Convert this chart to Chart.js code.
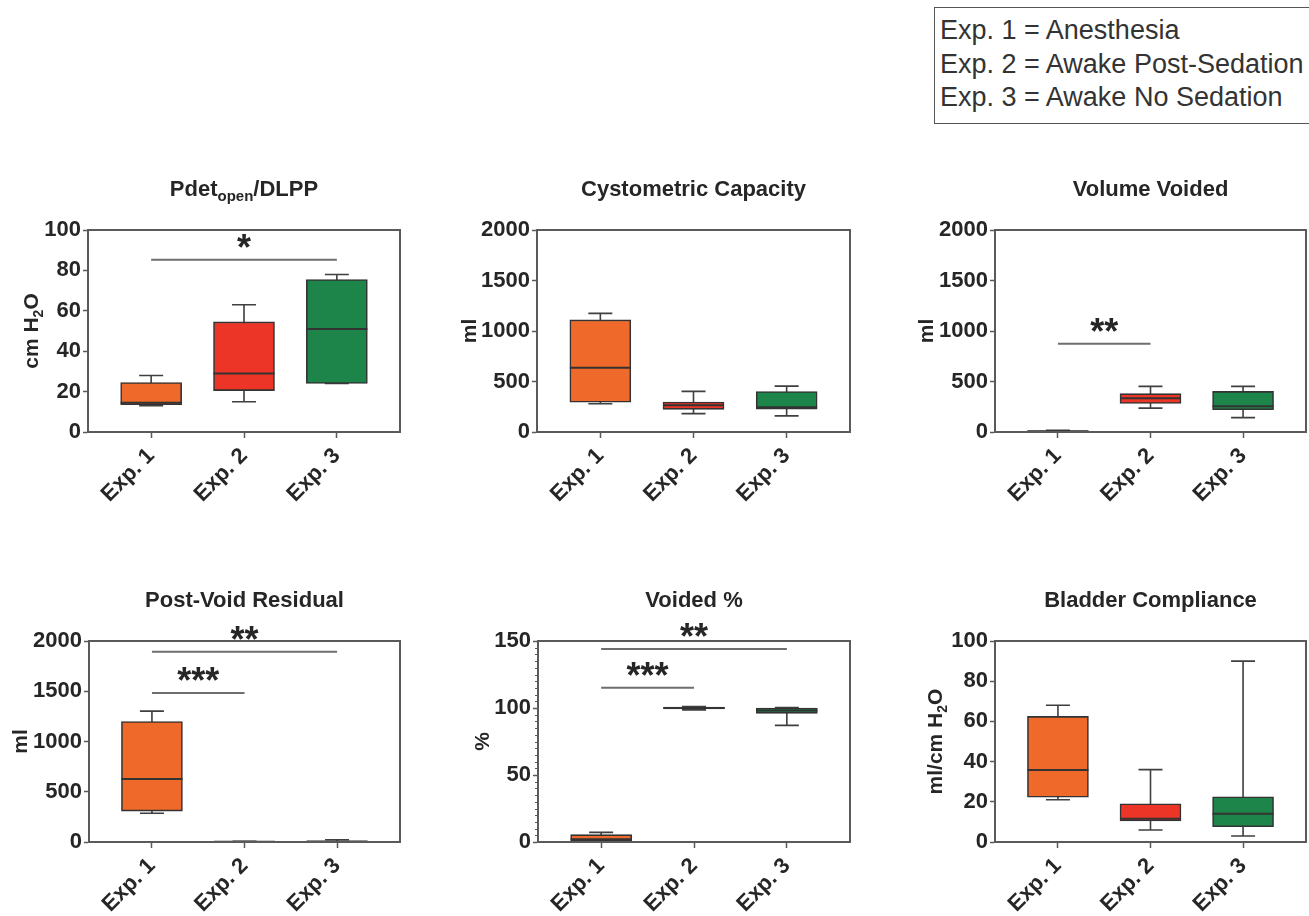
<!DOCTYPE html>
<html>
<head>
<meta charset="utf-8">
<script src="https://cdn.jsdelivr.net/npm/chart.js@4.4.1/dist/chart.umd.min.js"></script>
<style>
  html, body { margin: 0; padding: 0; background: #fff; }
  body { width: 1309px; height: 916px; overflow: hidden; position: relative; }
  canvas.panel { position: absolute; }
  #key {
    position: absolute; left: 934px; top: 7px; width: 420px; height: 117px;
    box-sizing: border-box; border: 1.5px solid #555; padding: 6px 0 0 5px;
    font: 27px "Liberation Sans", Arial, sans-serif; color: #333; line-height: 33.5px;
    white-space: nowrap;
  }
</style>
</head>
<body>
<div id="key">
  <div>Exp. 1 = Anesthesia</div>
  <div>Exp. 2 = Awake Post-Sedation</div>
  <div>Exp. 3 = Awake No Sedation</div>
</div>
<script>
// ---- data ----
const categories = ['Exp. 1', 'Exp. 2', 'Exp. 3'];

// five-number summary per experiment: [min, q1, median, q3, max]
const pdetBoxes       = [[13, 13.5, 14.5, 24.5, 28], [15, 20.5, 29, 54.5, 63], [24, 24, 51, 75.5, 78]];
const capacityBoxes   = [[280, 295, 635, 1110, 1175], [182, 224, 266, 296, 402], [160, 226, 246, 400, 454]];
const volVoidedBoxes  = [[3, 5, 8, 12, 18], [236, 282, 334, 380, 452], [142, 220, 256, 402, 452]];
const pvrBoxes        = [[286, 308, 626, 1198, 1302], [0, 1, 2, 4, 6], [0, 2, 5, 9, 22]];
const voidedPctBoxes  = [[0.3, 0.8, 2, 5.5, 7.2], [98.6, 99.3, 100, 100.6, 101], [87, 96, 98.2, 100, 100.4]];
const complianceBoxes = [[21, 22.3, 35.8, 62.5, 68], [6, 10.5, 11.6, 19, 36], [3, 7.6, 14, 22.5, 90]];

// significance brackets: [from group, to group, height in axis units, stars]
const pdetSig       = [[0, 2, 85.3, '*']];
const capacitySig   = [];
const volVoidedSig  = [[0, 1, 873, '**']];
const pvrSig        = [[0, 2, 1893, '**'], [0, 1, 1483, '***']];
const voidedPctSig  = [[0, 2, 144, '**'], [0, 1, 115.2, '***']];
const complianceSig = [];

// panel text and axis ranges
const panelTitles = ['Pdet_{open}/DLPP', 'Cystometric Capacity', 'Volume Voided', 'Post-Void Residual', 'Voided %', 'Bladder Compliance'];
const yTitles     = ['cm H_{2}O', 'ml', 'ml', 'ml', '%', 'ml/cm H_{2}O'];
const yMaxes      = [100, 2000, 2000, 2000, 150, 100];
const ySteps      = [20, 500, 500, 500, 50, 20];
const yMinorSteps = [0, 0, 0, 0, 5, 0];

// ---- styling / layout ----
const boxColors = ['#ef6a2a', '#ec3527', '#1d854a'];
const FONT = '"Liberation Sans", Arial, sans-serif';
const INK = '#262626';
const AXIS = '#5a5a5a';
const LEFT_SPACE = 95, TOP_SPACE = 75, BOTTOM_SPACE = 80, RIGHT_SPACE = 3;

const layouts = [
  { plot: [88, 230, 400, 432],   yTitleGap: 58 },
  { plot: [537, 230, 850, 432],  yTitleGap: 69 },
  { plot: [995, 230, 1306, 432], yTitleGap: 70 },
  { plot: [89, 641, 400, 842],   yTitleGap: 70 },
  { plot: [538, 641, 850, 842],  yTitleGap: 57 },
  { plot: [995, 641, 1306, 842], yTitleGap: 61 }
];

const allBoxes = [pdetBoxes, capacityBoxes, volVoidedBoxes, pvrBoxes, voidedPctBoxes, complianceBoxes];
const allSig   = [pdetSig, capacitySig, volVoidedSig, pvrSig, voidedPctSig, complianceSig];

// text with "_{...}" subscripts
function drawRich(ctx, text, x, y, size, align) {
  const parts = [];
  const re = /_\{([^}]*)\}/g;
  let last = 0, m;
  while ((m = re.exec(text))) {
    if (m.index > last) parts.push({ s: text.slice(last, m.index), sub: false });
    parts.push({ s: m[1], sub: true });
    last = re.lastIndex;
  }
  if (last < text.length) parts.push({ s: text.slice(last), sub: false });
  const subSize = Math.round(size * 0.68);
  const font = (s) => `bold ${s}px ${FONT}`;
  let total = 0;
  parts.forEach(p => { ctx.font = font(p.sub ? subSize : size); p.w = ctx.measureText(p.s).width; total += p.w; });
  let cx = align === 'center' ? x - total / 2 : x;
  ctx.textAlign = 'left';
  ctx.textBaseline = 'alphabetic';
  parts.forEach(p => {
    ctx.font = font(p.sub ? subSize : size);
    ctx.fillText(p.s, cx, p.sub ? y + size * 0.24 : y);
    cx += p.w;
  });
}

const boxPlotPlugin = {
  id: 'boxPlot',
  beforeDatasetsDraw(chart, args, o) {
    // whiskers behind the boxes
    const { ctx } = chart;
    const xs = chart.scales.x, ys = chart.scales.y;
    ctx.save();
    ctx.strokeStyle = '#3f3f3f';
    ctx.lineWidth = 1.6;
    o.boxes.forEach((b, i) => {
      const x = xs.getPixelForValue(i);
      const yMin = ys.getPixelForValue(b[0]), yMax = ys.getPixelForValue(b[4]);
      const cap = 12;
      ctx.beginPath();
      ctx.moveTo(x, yMin); ctx.lineTo(x, yMax);
      ctx.moveTo(x - cap, yMax); ctx.lineTo(x + cap, yMax);
      ctx.moveTo(x - cap, yMin); ctx.lineTo(x + cap, yMin);
      ctx.stroke();
    });
    ctx.restore();
  },
  afterDatasetsDraw(chart, args, o) {
    const { ctx, chartArea: a } = chart;
    const xs = chart.scales.x, ys = chart.scales.y;
    const meta = chart.getDatasetMeta(0);
    ctx.save();
    // medians
    ctx.strokeStyle = '#333';
    ctx.lineWidth = 2;
    o.boxes.forEach((b, i) => {
      const el = meta.data[i];
      const y = ys.getPixelForValue(b[2]);
      ctx.beginPath();
      ctx.moveTo(el.x - el.width / 2, y);
      ctx.lineTo(el.x + el.width / 2, y);
      ctx.stroke();
    });
    // frame
    ctx.strokeStyle = AXIS;
    ctx.lineWidth = 2;
    ctx.strokeRect(a.left, a.top, a.right - a.left, a.bottom - a.top);
    // minor ticks
    if (o.minor) {
      ctx.lineWidth = 1.2;
      ctx.beginPath();
      for (let v = o.minor; v < ys.max; v += o.minor) {
        if (Math.abs(v / o.major - Math.round(v / o.major)) < 1e-6) continue;
        const y = Math.round(ys.getPixelForValue(v)) + 0.5;
        ctx.moveTo(a.left - 3, y); ctx.lineTo(a.left, y);
      }
      ctx.stroke();
    }
    // significance brackets
    o.sig.forEach(s => {
      const x1 = xs.getPixelForValue(s[0]), x2 = xs.getPixelForValue(s[1]);
      const y = ys.getPixelForValue(s[2]);
      ctx.strokeStyle = '#6e6e6e';
      ctx.lineWidth = 2;
      ctx.beginPath();
      ctx.moveTo(x1, y); ctx.lineTo(x2, y);
      ctx.stroke();
      ctx.font = `bold 36px ${FONT}`;
      ctx.fillStyle = INK;
      ctx.textAlign = 'center';
      ctx.textBaseline = 'alphabetic';
      const mt = ctx.measureText(s[3]);
      const center = y - 19;
      ctx.fillText(s[3], (x1 + x2) / 2, center + (mt.actualBoundingBoxAscent - mt.actualBoundingBoxDescent) / 2);
    });
    // panel title
    ctx.fillStyle = INK;
    drawRich(ctx, o.title, (a.left + a.right) / 2, a.top - 34, 22, 'center');
    // y-axis title
    ctx.translate(a.left - o.yTitleGap, (a.top + a.bottom) / 2);
    ctx.rotate(-Math.PI / 2);
    drawRich(ctx, o.yTitle, 0, 21 * 0.36, 21, 'center');
    ctx.restore();
  }
};

Chart.defaults.font.family = FONT;
Chart.defaults.font.weight = 'bold';
Chart.defaults.font.size = 22;
Chart.defaults.color = INK;

layouts.forEach((L, p) => {
  const [pl, pt, pr, pb] = L.plot;
  const cv = document.createElement('canvas');
  cv.className = 'panel';
  const w = pr - pl + LEFT_SPACE + RIGHT_SPACE;
  const h = pb - pt + TOP_SPACE + BOTTOM_SPACE;
  cv.width = w; cv.height = h;
  cv.style.left = (pl - LEFT_SPACE) + 'px';
  cv.style.top = (pt - TOP_SPACE) + 'px';
  cv.style.width = w + 'px'; cv.style.height = h + 'px';
  document.body.appendChild(cv);

  const boxes = allBoxes[p];
  new Chart(cv, {
    type: 'bar',
    data: {
      datasets: [{
        data: boxes.map((b, i) => ({ x: i, y: [b[1], b[3]] })),
        backgroundColor: boxColors,
        borderColor: '#333',
        borderWidth: 1.6,
        borderSkipped: false,
        barThickness: 61
      }]
    },
    options: {
      responsive: false,
      devicePixelRatio: 1,
      animation: false,
      layout: { padding: { top: TOP_SPACE, right: RIGHT_SPACE, left: 0, bottom: 0 } },
      plugins: {
        legend: { display: false },
        tooltip: { enabled: false },
        title: { display: false },
        boxPlot: {
          boxes: boxes, sig: allSig[p], title: panelTitles[p], yTitle: yTitles[p],
          yTitleGap: L.yTitleGap, minor: yMinorSteps[p], major: ySteps[p]
        }
      },
      scales: {
        x: {
          type: 'linear',
          offset: false,
          min: -0.68, max: 2.68,
          afterBuildTicks: (s) => { s.ticks = categories.map((c, i) => ({ value: i })); },
          afterFit: (s) => { s.height = BOTTOM_SPACE; },
          ticks: {
            autoSkip: false, minRotation: 45, maxRotation: 45, padding: 5,
            callback: (v) => categories[v]
          },
          grid: { display: true, offset: false, drawOnChartArea: false, drawTicks: true, tickLength: 6, tickColor: AXIS, tickWidth: 1.5 },
          border: { display: true, color: AXIS, width: 2 }
        },
        y: {
          type: 'linear',
          min: 0, max: yMaxes[p],
          ticks: { stepSize: ySteps[p], padding: 2, callback: (v) => String(v) },
          afterFit: (s) => { s.width = LEFT_SPACE; },
          grid: { display: true, drawOnChartArea: false, drawTicks: true, tickLength: 5, tickColor: AXIS, tickWidth: 1.5 },
          border: { display: true, color: AXIS, width: 2 }
        }
      }
    },
    plugins: [boxPlotPlugin]
  });
});
</script>
</body>
</html>
